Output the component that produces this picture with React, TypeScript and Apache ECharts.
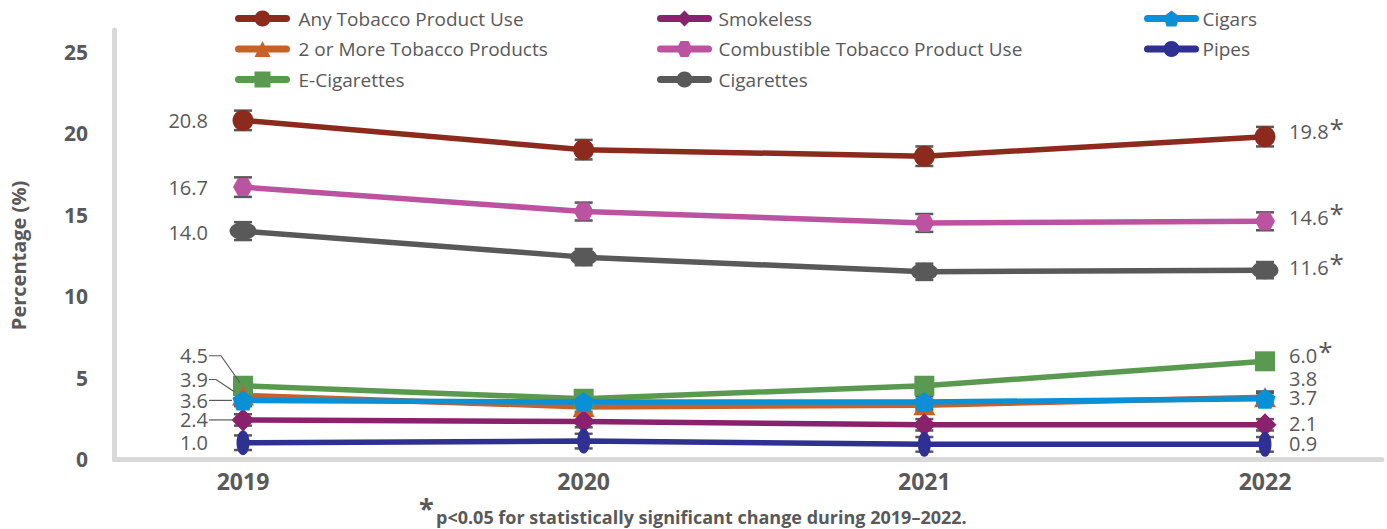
import { useEffect, useRef } from "react";
import * as echarts from "echarts";

// Survey years and prevalence estimates (%)
const years = ["2019", "2020", "2021", "2022"];
const anyTobacco = [20.8, 19.0, 18.6, 19.8];
const twoOrMore = [3.9, 3.2, 3.3, 3.8];
const eCigarettes = [4.5, 3.7, 4.5, 6.0];
const smokeless = [2.4, 2.3, 2.1, 2.1];
const combustible = [16.7, 15.2, 14.5, 14.6];
const cigarettes = [14.0, 12.4, 11.5, 11.6];
const cigars = [3.6, 3.5, 3.5, 3.7];
const pipes = [1.0, 1.1, 0.9, 0.9];

// Half-widths of the 95% confidence intervals (%)
const anyTobaccoCI = [0.6, 0.6, 0.6, 0.6];
const twoOrMoreCI = [0.35, 0.3, 0.3, 0.35];
const eCigarettesCI = [0.4, 0.35, 0.4, 0.45];
const smokelessCI = [0.35, 0.35, 0.35, 0.35];
const combustibleCI = [0.6, 0.55, 0.55, 0.55];
const cigarettesCI = [0.55, 0.5, 0.5, 0.5];
const cigarsCI = [0.35, 0.35, 0.35, 0.35];
const pipesCI = [0.45, 0.45, 0.45, 0.45];

// Products with a statistically significant 2019–2022 change
const significantChange = [
  "Any Tobacco Product Use",
  "Combustible Tobacco Product Use",
  "Cigarettes",
  "E-Cigarettes",
];

const yTicks = { min: 0, max: 25, step: 5 };
const footnoteText = "p<0.05 for statistically significant change during 2019–2022.";

const TEXT = "#595959";
const FONT = "'Open Sans', 'Noto Sans', sans-serif";

const PENTAGON = "path://M0,-1 L0.951,-0.309 L0.588,0.809 L-0.588,0.809 L-0.951,-0.309 Z";
const HEXAGON = "path://M-1,0 L-0.5,-0.866 L0.5,-0.866 L1,0 L0.5,0.866 L-0.5,0.866 Z";

type Def = {
  name: string;
  values: number[];
  ci: number[];
  color: string;
  symbol: string;
  size: number | number[];
};

// Drawing order: later entries sit on top
const defs: Def[] = [
  { name: "Any Tobacco Product Use", values: anyTobacco, ci: anyTobaccoCI, color: "#8C2A1E", symbol: "circle", size: 21 },
  { name: "Combustible Tobacco Product Use", values: combustible, ci: combustibleCI, color: "#BC53A0", symbol: HEXAGON, size: [20, 18] },
  { name: "Cigarettes", values: cigarettes, ci: cigarettesCI, color: "#595959", symbol: "circle", size: [27, 18] },
  { name: "E-Cigarettes", values: eCigarettes, ci: eCigarettesCI, color: "#5A9A50", symbol: "rect", size: 20 },
  { name: "2 or More Tobacco Products", values: twoOrMore, ci: twoOrMoreCI, color: "#C8602A", symbol: "triangle", size: [22, 20] },
  { name: "Smokeless", values: smokeless, ci: smokelessCI, color: "#8A216D", symbol: "diamond", size: 23 },
  { name: "Pipes", values: pipes, ci: pipesCI, color: "#2E3192", symbol: "circle", size: [13, 25] },
  { name: "Cigars", values: cigars, ci: cigarsCI, color: "#0A90D6", symbol: PENTAGON, size: [21, 20] },
];

// Label placement beside the first and last points
type Nudge = { dy: number; leader?: { knee: number; end: [number, number] } };
const leftNudges: Record<string, Nudge> = {
  "E-Cigarettes": { dy: -30, leader: { knee: 12, end: [-3, -3] } },
  "2 or More Tobacco Products": { dy: -16, leader: { knee: 7, end: [-9, -4] } },
  Cigars: { dy: 0, leader: { knee: 0, end: [-11, 0] } },
  Smokeless: { dy: 0, leader: { knee: 0, end: [-9, 0] } },
  Cigarettes: { dy: 1 },
};
const rightNudges: Record<string, Nudge> = {
  "Any Tobacco Product Use": { dy: -5 },
  "Combustible Tobacco Product Use": { dy: -4 },
  Cigarettes: { dy: -3 },
  "E-Cigarettes": { dy: -6 },
  "2 or More Tobacco Products": { dy: -19 },
  Cigars: { dy: -1 },
  Smokeless: { dy: -1 },
  Pipes: { dy: -1 },
};

const LABEL_FONT = `20px ${FONT}`;
let measureCtx: CanvasRenderingContext2D | null = null;
function textWidth(s: string, font: string): number {
  if (!measureCtx) measureCtx = document.createElement("canvas").getContext("2d");
  if (!measureCtx) return s.length * 10;
  measureCtx.font = font;
  return measureCtx.measureText(s).width;
}

const legendColumns = [
  { left: 230, names: ["Any Tobacco Product Use", "2 or More Tobacco Products", "E-Cigarettes"], pad: 7 },
  { left: 652, names: ["Smokeless", "Combustible Tobacco Product Use", "Cigarettes"], pad: 5 },
  { left: 1139, names: ["Cigars", "Pipes"], pad: 2 },
];

export default function App() {
  const ref = useRef<HTMLDivElement>(null);

  useEffect(() => {
    if (!ref.current) return;
    const chart = echarts.init(ref.current, null, { renderer: "svg" });

    const lineSeries = defs.map((d) => ({
      type: "line",
      name: d.name,
      xAxisIndex: 0,
      yAxisIndex: 0,
      data: d.values,
      symbol: d.symbol,
      symbolSize: d.size,
      showAllSymbol: true,
      color: d.color,
      lineStyle: { color: d.color, width: 5.5, cap: "round" },
      itemStyle: { color: d.color, opacity: 1 },
      emphasis: { disabled: true },
      z: 3,
    }));

    const errorData: number[][] = [];
    defs.forEach((d) => d.values.forEach((v, i) => errorData.push([i, v, d.ci[i]])));

    const labelData: number[][] = [];
    defs.forEach((d, si) => {
      labelData.push([0, d.values[0], si, 0]);
      labelData.push([d.values.length - 1, d.values[d.values.length - 1], si, 1]);
    });

    chart.setOption({
      animation: false,
      textStyle: { fontFamily: FONT },
      grid: [
        { left: 241, right: 122, top: 52, bottom: 70 },
        { left: 114.5, right: 5, top: 30, bottom: 69.5 },
      ],
      legend: legendColumns.map((c) => ({
        left: c.left,
        top: 4,
        orient: "vertical",
        itemWidth: 48,
        itemHeight: 20,
        itemGap: 11.5,
        selectedMode: false,
        data: c.names,
        lineStyle: { width: 7, cap: "round" },
        textStyle: { color: TEXT, fontSize: 19, fontFamily: FONT, padding: [0, 0, 0, c.pad] },
      })),
      xAxis: [
        {
          type: "category",
          gridIndex: 0,
          data: years,
          boundaryGap: false,
          axisLine: { show: false },
          axisTick: { show: false },
          axisLabel: { color: TEXT, fontSize: 23, fontWeight: "bold", fontFamily: FONT, margin: 10 },
          splitLine: { show: false },
        },
        {
          type: "value",
          gridIndex: 1,
          min: 0,
          max: 1,
          axisLine: { show: true, lineStyle: { color: "#D9D9D9", width: 5 } },
          axisTick: { show: false },
          axisLabel: { show: false },
          splitLine: { show: false },
        },
      ],
      yAxis: [
        {
          type: "value",
          gridIndex: 0,
          min: yTicks.min,
          max: yTicks.max,
          interval: yTicks.step,
          name: "Percentage (%)",
          nameLocation: "middle",
          nameRotate: 90,
          nameGap: 215,
          nameTextStyle: { color: TEXT, fontSize: 20, fontWeight: "bold", fontFamily: FONT },
          axisLine: { show: false },
          axisTick: { show: false },
          axisLabel: { color: TEXT, fontSize: 21, fontWeight: "bold", fontFamily: FONT, margin: 155 },
          splitLine: { show: false },
        },
        {
          type: "value",
          gridIndex: 1,
          min: 0,
          max: 1,
          axisLine: { show: true, lineStyle: { color: "#D9D9D9", width: 5 } },
          axisTick: { show: false },
          axisLabel: { show: false },
          splitLine: { show: false },
        },
      ],
      series: [
        {
          type: "custom",
          name: "ci",
          xAxisIndex: 0,
          yAxisIndex: 0,
          data: errorData,
          z: 2,
          silent: true,
          renderItem: (_p: any, api: any) => {
            const x = api.value(0);
            const v = api.value(1);
            const m = api.value(2);
            const top = api.coord([x, v + m]);
            const bot = api.coord([x, v - m]);
            const hw = 9;
            const st = { stroke: "#595959", lineWidth: 2.5 };
            return {
              type: "group",
              children: [
                { type: "line", shape: { x1: top[0], y1: top[1], x2: bot[0], y2: bot[1] }, style: st },
                { type: "line", shape: { x1: top[0] - hw, y1: top[1], x2: top[0] + hw, y2: top[1] }, style: st },
                { type: "line", shape: { x1: bot[0] - hw, y1: bot[1], x2: bot[0] + hw, y2: bot[1] }, style: st },
              ],
            };
          },
        },
        ...lineSeries,
        {
          type: "custom",
          name: "labels",
          xAxisIndex: 0,
          yAxisIndex: 0,
          data: labelData,
          z: 4,
          silent: true,
          renderItem: (_p: any, api: any) => {
            const x = api.value(0);
            const v = api.value(1);
            const si = api.value(2);
            const side = api.value(3);
            const d = defs[si];
            const [px, py] = api.coord([x, v]);
            const txt = v.toFixed(1);
            const children: any[] = [];
            if (side === 0) {
              const n = leftNudges[d.name] || { dy: 0 };
              const tx = px - 35;
              const ty = py + n.dy;
              children.push({
                type: "text",
                style: { text: txt, x: tx, y: ty, align: "right", verticalAlign: "middle", font: LABEL_FONT, fill: TEXT },
              });
              if (n.leader) {
                const sx = tx + 1;
                children.push({
                  type: "polyline",
                  shape: {
                    points: [
                      [sx, ty],
                      [sx + n.leader.knee, ty],
                      [px + n.leader.end[0], py + n.leader.end[1]],
                    ],
                  },
                  style: { stroke: TEXT, lineWidth: 1.2, fill: null },
                });
              }
            } else {
              const n = rightNudges[d.name] || { dy: 0 };
              const tx = px + 24;
              const ty = py + n.dy;
              children.push({
                type: "text",
                style: { text: txt, x: tx, y: ty, align: "left", verticalAlign: "middle", font: LABEL_FONT, fill: TEXT },
              });
              if (significantChange.includes(d.name)) {
                const w = textWidth(txt, LABEL_FONT);
                children.push({
                  type: "text",
                  style: {
                    text: "*",
                    x: tx + w + 1,
                    y: ty - 4,
                    align: "left",
                    verticalAlign: "middle",
                    font: `26px ${FONT}`,
                    fill: TEXT,
                  },
                });
              }
            }
            return { type: "group", children };
          },
        },
      ],
      graphic: [
        {
          type: "text",
          left: 419,
          top: 494,
          style: { text: "*", font: `bold 27px ${FONT}`, fill: TEXT },
        },
        {
          type: "text",
          left: 436,
          top: 508,
          style: { text: footnoteText, font: `bold 18px ${FONT}`, fill: TEXT },
        },
      ],
    });

    return () => chart.dispose();
  }, []);

  return (
    <div
      ref={ref}
      style={{ position: "fixed", left: 0, top: 0, width: 1387, height: 529, background: "#fff" }}
    />
  );
}
